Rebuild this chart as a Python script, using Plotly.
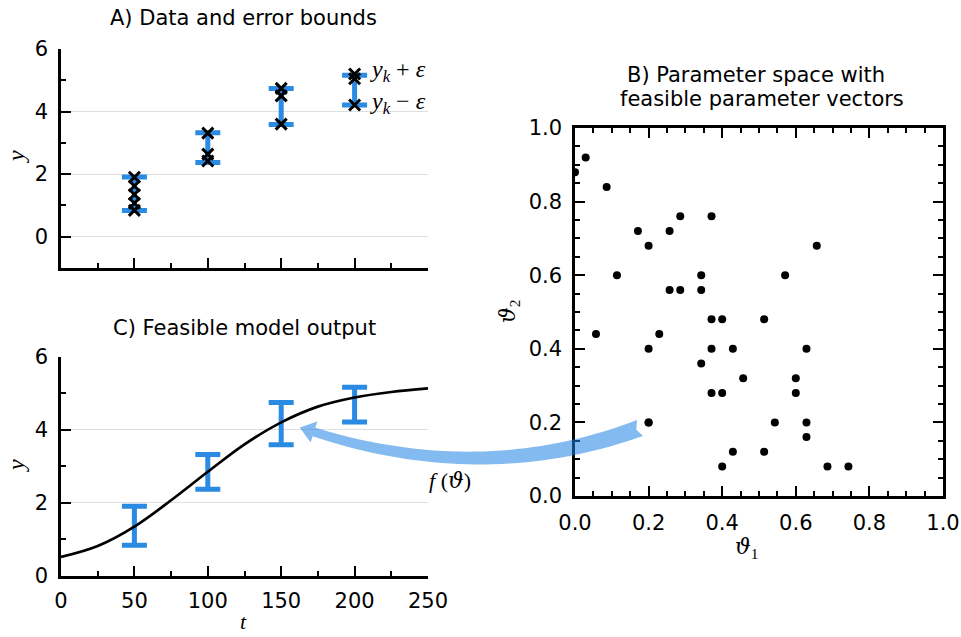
import numpy as np
import plotly.graph_objects as go

W, H = 961, 637

# ---------------- data ----------------
t_obs = [50, 100, 150, 200]
y_upper = [1.91, 3.32, 4.74, 5.16]
y_lower = [0.84, 2.37, 3.59, 4.21]

# black crosses in panel A (t, y)
cross_t = [50, 50, 50, 50, 50, 100, 100, 100, 150, 150, 150, 200, 200, 200]
cross_y = [1.9, 1.62, 1.35, 1.07, 0.84, 3.31, 2.64, 2.42, 4.74, 4.5, 3.6, 5.2, 5.05, 4.21]

# model curve in panel C
curve_t = [0, 25, 50, 75, 100, 125, 150, 175, 200, 225, 250]
curve_y = [0.52, 0.82, 1.35, 2.07, 2.85, 3.6, 4.2, 4.63, 4.88, 5.03, 5.13]

# feasible parameter vectors (panel B)
theta1 = [0.0, 0.029, 0.086, 0.171, 0.2, 0.114, 0.257, 0.286, 0.371, 0.657,
          0.343, 0.571, 0.257, 0.286, 0.343, 0.371, 0.4, 0.514, 0.057, 0.229,
          0.2, 0.371, 0.429, 0.629, 0.343, 0.457, 0.371, 0.4, 0.6, 0.6,
          0.2, 0.2, 0.543, 0.629, 0.629, 0.429, 0.514, 0.4, 0.686, 0.743]
theta2 = [0.88, 0.92, 0.84, 0.72, 0.68, 0.6, 0.72, 0.76, 0.76, 0.68,
          0.6, 0.6, 0.56, 0.56, 0.56, 0.48, 0.48, 0.48, 0.44, 0.44,
          0.4, 0.4, 0.4, 0.4, 0.36, 0.32, 0.28, 0.28, 0.32, 0.28,
          0.2, 0.2, 0.2, 0.2, 0.16, 0.12, 0.12, 0.08, 0.08, 0.08]

# ---------------- styles ----------------
BLUE = "#2b8ae2"
ARROW = "rgba(30,130,225,0.55)"
GRID = "#dedede"
TICKFONT = dict(family="DejaVu Sans", size=21, color="black")
MATH = "Liberation Serif"
GREEK = "DejaVu Serif"


def px(x):
    return x / W


def py(y):
    return 1 - y / H


y_mid = [(u + l) / 2 for u, l in zip(y_upper, y_lower)]
y_half = [(u - l) / 2 for u, l in zip(y_upper, y_lower)]

fig = go.Figure()

# Panel A: error bars + crosses
fig.add_trace(go.Scatter(x=t_obs, y=y_mid, mode="markers",
                         marker=dict(size=1, color="rgba(0,0,0,0)"),
                         error_y=dict(type="data", array=y_half, symmetric=True,
                                      color=BLUE, thickness=5, width=12.5),
                         xaxis="x", yaxis="y", showlegend=False, hoverinfo="skip"))
fig.add_trace(go.Scatter(x=cross_t, y=cross_y, mode="markers",
                         marker=dict(symbol="x-thin", size=11, color="black",
                                     line=dict(width=3, color="black")),
                         xaxis="x", yaxis="y", showlegend=False))

# Panel C: error bars + curve
fig.add_trace(go.Scatter(x=t_obs, y=y_mid, mode="markers",
                         marker=dict(size=1, color="rgba(0,0,0,0)"),
                         error_y=dict(type="data", array=y_half, symmetric=True,
                                      color=BLUE, thickness=5, width=12.5),
                         xaxis="x2", yaxis="y2", showlegend=False, hoverinfo="skip"))
fig.add_trace(go.Scatter(x=curve_t, y=curve_y, mode="lines",
                         line=dict(color="black", width=2.7, shape="spline"),
                         xaxis="x2", yaxis="y2", showlegend=False))

# Panel B: scatter
fig.add_trace(go.Scatter(x=theta1, y=theta2, mode="markers",
                         marker=dict(size=8, color="black"),
                         xaxis="x3", yaxis="y3", showlegend=False))

axis_common = dict(showline=True, linecolor="black", linewidth=2.5,
                   ticks="inside", ticklen=10, tickwidth=2, tickcolor="black",
                   zeroline=False, tickfont=TICKFONT, automargin=False)
minor_common = dict(ticks="inside", ticklen=5, tickwidth=1.5, tickcolor="black")

A_L, A_R = 61, 428
fig.update_layout(
    width=W, height=H, margin=dict(l=0, r=0, t=0, b=0, autoexpand=False),
    paper_bgcolor="white", plot_bgcolor="white",
    xaxis=dict(axis_common, domain=[px(A_L), px(A_R)], anchor="y", range=[0, 250],
               tick0=0, dtick=50, showticklabels=False, showgrid=False,
               minor=dict(minor_common, dtick=25, tick0=0)),
    yaxis=dict(axis_common, domain=[py(268), py(49)], anchor="x", range=[-1, 6],
               tick0=0, dtick=2, showgrid=True, gridcolor=GRID, gridwidth=1,
               ticklabelstandoff=6,
               minor=dict(minor_common, dtick=1, tick0=0)),
    xaxis2=dict(axis_common, domain=[px(A_L), px(A_R)], anchor="y2", range=[0, 250],
                tick0=0, dtick=50, showgrid=False, ticklabelstandoff=4,
                minor=dict(minor_common, dtick=25, tick0=0)),
    yaxis2=dict(axis_common, domain=[py(576), py(356.5)], anchor="x2", range=[0, 6],
                tick0=0, dtick=2, showgrid=True, gridcolor=GRID, gridwidth=1,
                ticklabelstandoff=6,
                minor=dict(minor_common, dtick=1, tick0=0)),
    xaxis3=dict(axis_common, domain=[px(575), px(943)], anchor="y3", range=[0, 1],
                tick0=0, dtick=0.2, tickformat=".1f", showgrid=False, mirror="ticks",
                ticklabelstandoff=6,
                minor=dict(minor_common, dtick=0.05, tick0=0)),
    yaxis3=dict(axis_common, domain=[py(496), py(128)], anchor="x3", range=[0, 1],
                tick0=0, dtick=0.2, tickformat=".1f", showgrid=False, mirror="ticks",
                ticklabelstandoff=6,
                minor=dict(minor_common, dtick=0.05, tick0=0)),
)

# ---------------- text ----------------
def ann(text, x, y, size=21, family="DejaVu Sans", angle=0, xanchor="center", yanchor="middle"):
    fig.add_annotation(text=text, x=px(x), y=py(y), xref="paper", yref="paper",
                       showarrow=False, textangle=angle, xanchor=xanchor, yanchor=yanchor,
                       font=dict(family=family, size=size, color="black"))

ann("A) Data and error bounds", 244, 18)
ann("C) Feasible model output", 244.5, 328)
ann("B) Parameter space with", 756, 75)
ann("feasible parameter vectors", 762, 99)

TH = f"<span style='font-family:{GREEK}'><i>ϑ</i></span>"
ann("<i>y</i>", 16, 157, size=24, family=MATH, angle=-90)
ann("<i>y</i>", 16, 466, size=24, family=MATH, angle=-90)
ann("<i>t</i>", 244, 621, size=22, family=MATH)
ann(f"{TH}<sub>1</sub>", 746, 548, size=22, family=MATH)
ann(f"{TH}<sub>2</sub>", 509, 312, size=22, family=MATH, angle=-90)
ann(f"<i>f</i> ({TH})", 450, 481, size=22, family=MATH)
ann("<i>y</i><sub><i>k</i></sub> + <i>ε</i>", 368, 71, size=24, family=MATH, xanchor="left")
ann("<i>y</i><sub><i>k</i></sub> − <i>ε</i>", 368, 103, size=24, family=MATH, xanchor="left")

# ---------------- curved arrow (pixel geometry) ----------------
P0 = np.array([640.0, 428.0])
P1 = np.array([483.0, 486.0])
P2 = np.array([314.0, 432.0])
ts = np.linspace(0, 1, 40)
pts = np.array([(1 - s) ** 2 * P0 + 2 * (1 - s) * s * P1 + s ** 2 * P2 for s in ts])
ders = np.array([2 * (1 - s) * (P1 - P0) + 2 * s * (P2 - P1) for s in ts])
tang = ders / np.linalg.norm(ders, axis=1)[:, None]
norm = np.stack([-tang[:, 1], tang[:, 0]], axis=1)
hw = 8.5 + (4.5 - 8.5) * ts
upper = pts + norm * hw[:, None]
lower = pts - norm * hw[:, None]
tip = P2 + tang[-1] * 15
barb1 = P2 + norm[-1] * 11
barb2 = P2 - norm[-1] * 11
notch = P0 + tang[0] * 4

poly = [notch] + list(upper) + [barb1, tip, barb2] + list(lower[::-1])
path = "M " + " L ".join(f"{px(p[0]):.5f},{py(p[1]):.5f}" for p in poly) + " Z"
fig.add_shape(type="path", path=path, xref="paper", yref="paper",
              fillcolor=ARROW, line=dict(width=0), layer="above")

fig.write_html("out.html")
